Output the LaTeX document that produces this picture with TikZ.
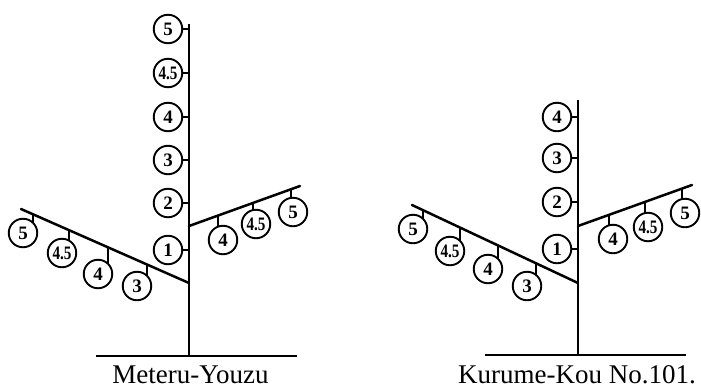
\documentclass[tikz,border=0pt]{standalone}
\usepackage{fontspec}
\setmainfont{Liberation Serif}
\usetikzlibrary{backgrounds}
\tikzset{
  x=1pt, y=-1pt,
  fruit/.style={circle, draw, line width=1.9pt, fill=white, inner sep=0pt,
    minimum size=28.5pt, font=\fontsize{19}{19}\selectfont\bfseries},
  stemline/.style={line width=2.8pt},
  limb/.style={line width=2.5pt, line cap=round},
  groundline/.style={line width=2.8pt},
  tick/.style={line width=1.8pt},
  caption/.style={anchor=base, font=\fontsize{27}{27}\selectfont, inner sep=0pt}
}
\newcommand{\half}{\scalebox{0.8}[1]{4.5}}
\begin{document}
\begin{tikzpicture}
\useasboundingbox (0,0) rectangle (701,389);

% ---------- Meteru-Youzu ----------
\coordinate (A-top) at (189,24);
\coordinate (A-base) at (189,356);
\coordinate (A-gl) at (96,356);
\coordinate (A-gr) at (297,356);
\coordinate (A-rb0) at (189,226);
\coordinate (A-rb1) at (300,186);
\coordinate (A-lb0) at (189,283);
\coordinate (A-lb1) at (21,209);

\draw[groundline] (A-gl) -- (A-gr);
\draw[stemline] (A-base) -- (A-top);
\draw[limb] (A-rb0) -- (A-rb1);
\draw[limb] (A-lb0) -- (A-lb1);

% fruits along the main stem
\node[fruit] (A-s5)  at (168,29)  {5};
\node[fruit] (A-s45) at (168,73)  {\half};
\node[fruit] (A-s4)  at (168,117) {4};
\node[fruit] (A-s3)  at (168,160) {3};
\node[fruit] (A-s2)  at (168,203) {2};
\node[fruit] (A-s1)  at (168,250) {1};
\foreach \n in {s5,s45,s4,s3,s2,s1}
  \draw[tick] (A-\n.east) -- (A-\n -| A-top);

% fruits on the right shoot
\coordinate (A-r4t)  at (218,215.5);
\coordinate (A-r45t) at (253,202.9);
\coordinate (A-r5t)  at (291,189.2);
\node[fruit] (A-r4)  at (223,240) {4};
\node[fruit] (A-r45) at (256,224) {\half};
\node[fruit] (A-r5)  at (293,212) {5};

% fruits on the left shoot
\coordinate (A-l5t)  at (33,214.3);
\coordinate (A-l45t) at (69,230.1);
\coordinate (A-l4t)  at (108,247.3);
\coordinate (A-l3t)  at (147,264.5);
\node[fruit] (A-l5)  at (23,233)  {5};
\node[fruit] (A-l45) at (62,253)  {\half};
\node[fruit] (A-l4)  at (98,274)  {4};
\node[fruit] (A-l3)  at (137,286) {3};

\begin{scope}[on background layer]
  \foreach \n in {r4,r45,r5,l5,l45,l4,l3}
    \draw[tick] (A-\n t) -- (A-\n t |- A-\n);
\end{scope}

\node[caption] (A-name) at (190.5,383) {Meteru-Youzu};

% ---------- Kurume-Kou No.101 ----------
\coordinate (B-top) at (578,100);
\coordinate (B-base) at (578,355);
\coordinate (B-gl) at (485,355);
\coordinate (B-gr) at (686,355);
\coordinate (B-rb0) at (578,226);
\coordinate (B-rb1) at (692,185);
\coordinate (B-lb0) at (578,283);
\coordinate (B-lb1) at (412,205);

\draw[groundline] (B-gl) -- (B-gr);
\draw[stemline] (B-base) -- (B-top);
\draw[limb] (B-rb0) -- (B-rb1);
\draw[limb] (B-lb0) -- (B-lb1);

\node[fruit] (B-s4) at (557,117) {4};
\node[fruit] (B-s3) at (557,158) {3};
\node[fruit] (B-s2) at (557,202) {2};
\node[fruit] (B-s1) at (557,249) {1};
\foreach \n in {s4,s3,s2,s1}
  \draw[tick] (B-\n.east) -- (B-\n -| B-top);

\coordinate (B-r4t)  at (609,214.9);
\coordinate (B-r45t) at (645,201.9);
\coordinate (B-r5t)  at (682,188.6);
\node[fruit] (B-r4)  at (613,239) {4};
\node[fruit] (B-r45) at (648,227) {\half};
\node[fruit] (B-r5)  at (685,213) {5};

\coordinate (B-l5t)  at (423,210.2);
\coordinate (B-l45t) at (460,227.6);
\coordinate (B-l4t)  at (498,245.4);
\coordinate (B-l3t)  at (536,263.3);
\node[fruit] (B-l5)  at (413,229) {5};
\node[fruit] (B-l45) at (450,251) {\half};
\node[fruit] (B-l4)  at (488,269) {4};
\node[fruit] (B-l3)  at (527,286) {3};

\begin{scope}[on background layer]
  \foreach \n in {r4,r45,r5,l5,l45,l4,l3}
    \draw[tick] (B-\n t) -- (B-\n t |- B-\n);
\end{scope}

\node[caption] (B-name) at (577,383) {Kurume-Kou No.101.};
\end{tikzpicture}
\end{document}
